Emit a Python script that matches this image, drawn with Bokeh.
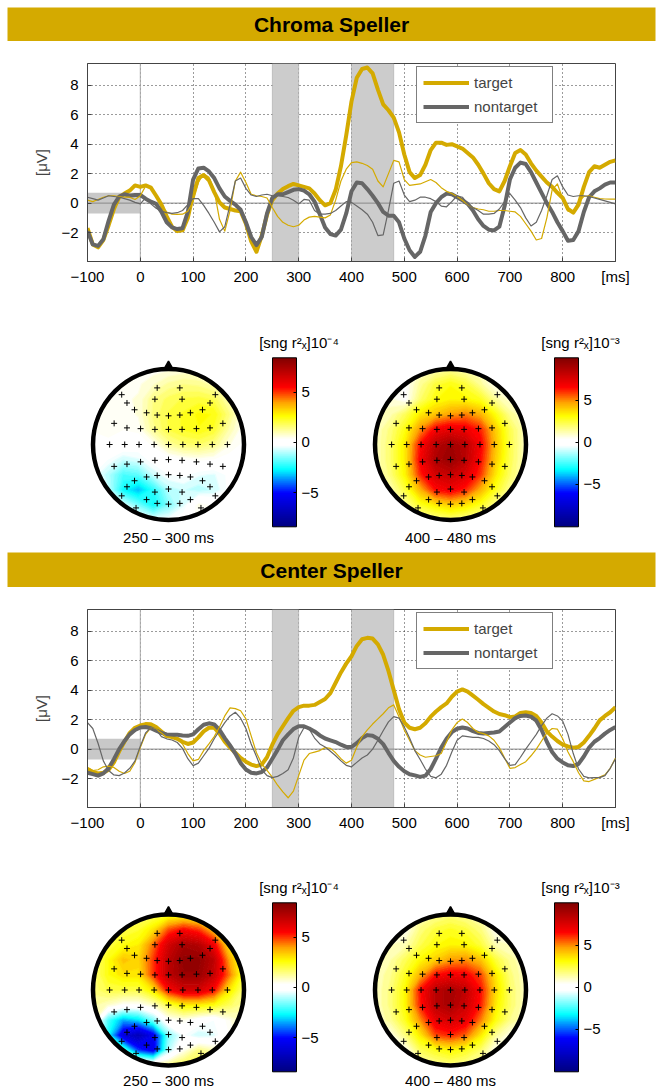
import numpy as np
from bokeh.plotting import figure
from bokeh.layouts import column, row
from bokeh.models import (Range1d, BoxAnnotation, Span, Legend, LegendItem, Label,
                          ColorBar, LinearColorMapper, FixedTicker)
from bokeh.embed import file_html
from bokeh.resources import INLINE

FONT = "Liberation Sans"
GOLD = "#D4AA00"
GRAY = "#666666"
SHADE = "#CCCCCC"
PAGE_W = 662

# ---------------- ERP data (uV), sampled every 10 ms ----------------
time_ms = list(range(-100, 901, 10))

chroma_cpz_target = [
    -1.7, -2.8, -3.0, -2.5, -1.5, -0.4, 0.4, 0.65, 0.85, 1.2,
    1.1, 1.2, 1.05, 0.5, -0.1, -0.9, -1.6, -1.9, -1.85, -1.0,
    0.6, 1.7, 1.9, 1.55, 0.75, 0.05, -0.3, -0.4, -0.5, -0.55,
    -1.4, -2.6, -3.3, -2.2, -0.8, 0.2, 0.65, 0.95, 1.15, 1.3,
    1.2, 1.1, 1.0, 0.65, 0.2, -0.15, 0.0, 0.9, 2.5, 4.6,
    6.9, 8.5, 9.1, 9.2, 8.8, 7.7, 6.7, 6.3, 5.8, 4.8,
    3.3, 2.1, 1.7, 1.9, 2.6, 3.6, 4.1, 4.1, 3.95, 4.0,
    3.85, 3.7, 3.4, 3.1, 2.6, 2.0, 1.35, 0.95, 0.8, 1.5,
    2.5, 3.4, 3.6, 3.3, 2.7, 2.2, 1.8, 1.4, 1.1, 0.7,
    0.35, -0.4, -0.65, -0.1, 1.1, 2.1, 2.5, 2.4, 2.6, 2.8,
    2.9]
chroma_cpz_nontarget = [
    -1.9, -2.8, -2.9, -2.45, -1.2, -0.1, 0.45, 0.6, 0.5, 0.55,
    0.55, 0.3, 0.1, -0.05, -0.6, -1.3, -1.65, -1.76, -1.7, -0.6,
    1.6, 2.35, 2.4, 2.15, 1.7, 1.0, 0.45, 0.15, -0.1, -0.45,
    -1.3, -2.3, -2.85, -2.3, -0.7, 0.35, 0.6, 0.6, 0.75, 0.9,
    0.95, 0.85, 0.6, 0.1, -0.75, -1.65, -2.1, -2.2, -1.8, -0.7,
    0.8, 1.4, 1.35, 0.95, 0.5, 0.0, -0.6, -0.85, -0.86, -1.3,
    -2.4, -3.2, -3.65, -3.3, -2.2, -0.6, 0.0, 0.4, 0.65, 0.6,
    0.4, 0.2, -0.05, -0.5, -1.1, -1.55, -1.8, -1.85, -1.6, -0.2,
    1.6, 2.4, 2.75, 2.65, 2.1, 1.4, 0.7, 0.0, -0.6, -1.3,
    -1.9, -2.55, -2.5, -1.9, -0.6, 0.4, 0.8, 1.0, 1.25, 1.4,
    1.4]
chroma_po7_target = [
    0.2, 0.1, 0.25, 0.4, 0.5, 0.5, 0.45, 0.4, 0.4, 0.25,
    0.5, 1.15, 1.1, 0.5, -0.2, -0.6, -0.75, -0.77, -0.75, -0.55,
    0.1, 1.4, 2.0, 1.75, 0.85, -1.1, -1.9, -0.5, 1.5, 2.1,
    1.4, 0.6, 0.5, 0.45, 0.35, -0.3, -0.9, -1.3, -1.5, -1.6,
    -1.5, -1.15, -0.95, -0.9, -0.95, -1.0, -0.8, 0.2, 1.5, 2.3,
    2.75, 2.8, 2.7, 2.55, 2.3, 1.5, 1.1, 2.0, 2.9, 2.8,
    1.6, 1.2, 1.25, 1.3, 1.45, 1.6, 1.4, 1.05, 0.8, 0.65,
    0.45, 0.2, -0.1, -0.3, -0.4, -0.45, -0.55, -0.55, -0.5, -0.5,
    -0.55, -0.6, -0.9, -1.4, -1.9, -2.5, -2.4, -1.0, 0.9, 1.3,
    0.3, -0.55, -0.6, 0.1, 0.45, 0.5, 0.4, 0.3, 0.28, 0.27,
    0.27]
chroma_po7_nontarget = [
    0.4, 0.3, 0.2, 0.35, 0.5, 0.45, 0.4, 0.3, 0.2, 0.05,
    -0.05, 0.35, -0.05, -0.35, -0.55, -0.65, -0.7, -0.65, -0.5, -0.1,
    0.3, 0.3, -0.15, -0.7, -1.3, -1.95, -1.6, -0.1, 1.5, 1.7,
    1.0, 0.55, 0.45, 0.55, 0.6, 0.5, 0.5, 0.45, 0.38, 0.2,
    -0.05, 0.25, 0.2, -0.5, -0.75, -0.75, -0.7, -0.5, -0.2, 0.1,
    0.05, -0.2, -0.45, -0.75, -1.3, -2.2, -2.15, -0.5, 1.35, 1.5,
    0.55, 0.1, 0.2, 0.4, 0.4, 0.3, 0.1, -0.2, -0.25, 0.1,
    0.5, 0.4, -0.05, -0.3, -0.5, -0.75, -0.75, -0.7, -0.4, 0.1,
    0.65, 0.2, -0.3, -1.0, -1.55, -1.3, -0.5, 0.5, 1.6, 1.85,
    1.1, 0.55, 0.45, 0.5, 0.5, 0.45, 0.35, 0.25, 0.15, 0.05,
    -0.05]

center_cpz_target = [
    -1.35, -1.55, -1.65, -1.6, -1.4, -0.9, -0.15, 0.5, 1.1, 1.45,
    1.6, 1.7, 1.68, 1.5, 1.2, 0.9, 0.82, 0.7, 0.5, 0.35,
    0.45, 0.8, 1.2, 1.45, 1.45, 1.05, 0.5, 0.1, -0.25, -0.6,
    -0.85, -1.05, -1.15, -1.05, -0.55, 0.3, 1.0, 1.55, 2.1, 2.6,
    2.85, 2.95, 2.95, 3.0, 3.2, 3.4, 3.8, 4.5, 5.2, 5.8,
    6.3, 7.0, 7.45, 7.55, 7.5, 7.1, 6.4, 5.3, 4.0, 2.7,
    1.8, 1.45, 1.35, 1.45, 1.75, 2.2, 2.55, 2.85, 3.1, 3.55,
    3.9, 4.05, 3.9, 3.63, 3.35, 3.05, 2.8, 2.55, 2.38, 2.3,
    2.17, 2.22, 2.45, 2.5, 2.45, 2.25, 1.8, 1.2, 0.85, 0.55,
    0.3, 0.18, 0.1, 0.15, 0.45, 0.9, 1.4, 1.95, 2.25, 2.5,
    2.85]
center_cpz_nontarget = [
    -1.6, -1.7, -1.8, -1.65, -1.3, -0.68, 0.0, 0.55, 1.0, 1.3,
    1.47, 1.5, 1.42, 1.25, 1.1, 1.0, 0.98, 0.97, 0.93, 0.9,
    1.0, 1.35, 1.65, 1.75, 1.68, 1.3, 0.75, 0.25, -0.3, -0.95,
    -1.38, -1.6, -1.65, -1.55, -1.25, -0.65, -0.05, 0.6, 1.0, 1.36,
    1.55, 1.55, 1.4, 1.2, 0.93, 0.72, 0.6, 0.48, 0.3, 0.15,
    0.15, 0.4, 0.75, 0.95, 0.9, 0.7, 0.34, -0.25, -0.8, -1.2,
    -1.5, -1.7, -1.78, -1.88, -1.8, -1.35, -0.65, 0.1, 0.7, 1.15,
    1.38, 1.47, 1.4, 1.22, 1.1, 1.06, 1.1, 1.13, 1.2, 1.5,
    1.8, 2.1, 2.25, 2.28, 2.2, 1.93, 1.3, 0.5, -0.2, -0.65,
    -0.9, -1.1, -1.15, -1.0, -0.5, 0.1, 0.5, 0.75, 1.05, 1.3,
    1.5]
center_po7_target = [
    -1.25, -1.45, -1.4, -1.2, -1.15, -1.25, -1.5, -1.65, -1.5, -0.9,
    0.1, 1.0, 1.45, 1.35, 1.1, 0.8, 0.8, 0.7, 0.35, -0.3,
    -0.8, -0.7, -0.1, 0.35, 0.85, 1.5, 2.25, 2.8, 2.75, 2.6,
    2.05, 0.9, -0.25, -1.0, -1.45, -1.9, -2.45, -2.9, -3.3, -2.85,
    -1.8, -0.75, -0.3, -0.2, -0.1, 0.1, 0.05, -0.25, -0.65, -0.95,
    -0.75, 0.15, 0.85, 1.3, 1.7, 2.05, 2.4, 2.8, 3.0, 2.2,
    1.3, 0.6, -0.1, -0.4, -0.55, -0.5, -0.45, -0.3, 0.5, 1.3,
    1.8, 2.04, 1.8, 1.4, 1.13, 1.05, 0.9, 0.6, 0.1, -0.6,
    -1.3, -1.25, -1.05, -0.85, -0.45, 0.0, 0.55, 1.1, 1.4, 1.35,
    0.7, -0.2, -0.85, -1.6, -2.15, -2.2, -2.05, -1.9, -1.75, -1.3,
    -0.6]
center_po7_nontarget = [
    1.8, 1.4, 0.4, -0.8, -1.45, -1.75, -1.8, -1.62, -1.3, -0.8,
    0.2, 1.1, 1.45, 1.3, 0.85, 0.7, 0.62, 0.45, 0.05, -0.65,
    -1.12, -0.95, -0.45, 0.05, 0.7, 1.25, 1.8, 2.25, 2.5, 2.1,
    1.4, 0.35, -0.5, -1.4, -1.8, -1.93, -1.85, -1.65, -1.4, -0.6,
    0.8, 1.45, 1.35, 0.75, 0.35, 0.15, -0.15, -0.45, -0.8, -1.1,
    -1.2, -0.9, -0.6, -0.4, 0.0, 0.6, 1.25, 1.85, 2.2, 2.1,
    1.5, 0.75, -0.1, -0.7, -1.35, -1.85, -1.95, -1.7, -1.1, -0.2,
    0.6, 0.9, 0.85, 0.8, 0.8, 0.72, 0.55, 0.3, -0.1, -0.65,
    -1.1, -1.05, -0.55, 0.0, 0.5, 1.0, 1.6, 2.1, 2.4, 2.25,
    1.9, 1.0, -0.3, -1.35, -1.85, -1.95, -1.93, -1.93, -1.8, -1.3,
    -0.65]

x_ticks = [-100, 0, 100, 200, 300, 400, 500, 600, 700, 800, 900]
x_tick_text = {-100: "\u2212100", 900: "[ms]"}
y_ticks = [-2, 0, 2, 4, 6, 8]
y_tick_text = {-2: "\u22122"}
intervals = [(250, 300), (400, 480)]
baseline_window = (-100, 0)
baseline_band = (-0.7, 0.7)

# ---------------- scalp maps: values on an 11x11 grid, rows from front (y=1) to back (y=-1) ----------------
grid_coords = [-1.0, -0.8, -0.6, -0.4, -0.2, 0.0, 0.2, 0.4, 0.6, 0.8, 1.0]

map_chroma_250 = [  # x 10^-4
    [0.3, 0.3, 0.3, 0.3, 0.4, 0.5, 0.6, 0.6, 0.4, 0.3, 0.3],
    [0.3, 0.4, 0.5, 0.5, 0.8, 1.2, 1.4, 1.3, 1.0, 0.5, 0.3],
    [0.3, 0.4, 0.5, 0.6, 1.4, 1.8, 2.0, 2.1, 1.9, 1.0, 0.3],
    [0.3, 0.4, 0.4, 0.6, 1.5, 2.0, 2.3, 2.6, 2.5, 1.5, 0.4],
    [0.3, 0.4, 0.3, 0.4, 1.3, 2.0, 2.3, 2.5, 2.2, 1.1, 0.3],
    [0.2, 0.2, 0.1, 0.0, 0.4, 1.2, 1.6, 1.7, 1.4, 0.6, 0.2],
    [0.0, -0.3, -0.8, -0.6, -0.1, 0.1, 0.3, 0.4, 0.3, 0.1, 0.0],
    [-0.3, -1.0, -2.0, -1.8, -0.8, -0.3, -0.2, -0.5, -0.6, -0.2, 0.0],
    [-0.3, -0.8, -2.6, -3.3, -2.3, -1.0, -0.8, -1.0, -0.8, -0.2, 0.0],
    [-0.2, -0.3, -0.6, -1.6, -2.6, -1.5, -0.6, 0.6, 0.2, 0.0, 0.0],
    [0.0, 0.0, 0.0, 0.0, -0.4, -0.3, 0.0, 0.4, 0.1, 0.0, 0.0]]
map_chroma_400 = [  # x 10^-3
    [1.0, 1.0, 1.0, 1.0, 1.2, 1.5, 1.2, 1.0, 1.0, 1.0, 1.0],
    [1.0, 0.5, 0.3, 1.5, 2.5, 3.0, 2.5, 1.5, 0.5, 0.8, 1.0],
    [1.0, 0.8, 0.3, 2.0, 3.0, 3.3, 3.2, 2.8, 1.5, 0.8, 1.0],
    [1.0, 1.2, 2.2, 3.5, 4.2, 4.8, 5.2, 4.5, 3.0, 1.5, 1.0],
    [1.0, 1.8, 3.0, 5.0, 6.8, 7.3, 7.0, 6.2, 4.0, 2.2, 1.0],
    [1.0, 2.0, 3.5, 6.5, 8.5, 9.2, 8.5, 6.8, 4.2, 2.3, 1.0],
    [1.0, 2.0, 3.5, 6.8, 8.8, 9.5, 8.5, 6.5, 4.0, 2.2, 1.0],
    [1.0, 1.8, 3.3, 6.2, 7.8, 8.2, 7.5, 6.0, 3.5, 2.0, 1.0],
    [1.0, 1.2, 2.5, 4.5, 6.5, 7.0, 6.2, 4.5, 2.8, 1.5, 1.0],
    [1.0, 0.8, 1.5, 2.8, 3.5, 4.0, 3.6, 2.8, 1.6, 0.8, 1.0],
    [1.0, 1.0, 1.0, 1.2, 1.5, 1.8, 1.5, 1.2, 1.0, 1.0, 1.0]]
map_center_250 = [  # x 10^-4
    [1.5, 1.5, 1.5, 1.5, 1.8, 2.2, 2.5, 2.4, 2.0, 1.5, 1.5],
    [1.5, 1.8, 2.0, 2.2, 3.0, 4.8, 5.5, 5.0, 3.5, 2.0, 1.5],
    [1.5, 2.0, 2.5, 2.8, 4.5, 6.5, 7.5, 7.2, 5.8, 3.0, 1.5],
    [1.5, 2.5, 3.5, 3.2, 5.0, 7.0, 8.0, 8.0, 7.0, 4.0, 2.0],
    [1.5, 2.5, 3.0, 3.0, 5.0, 7.0, 7.8, 7.8, 6.8, 4.5, 2.0],
    [1.5, 2.0, 2.0, 2.0, 3.0, 5.5, 6.5, 6.5, 5.5, 3.0, 1.5],
    [1.2, 0.8, 0.3, 0.3, 0.8, 2.0, 2.8, 2.8, 2.5, 1.8, 1.2],
    [1.0, -2.0, -3.5, -3.0, -1.5, 0.3, 0.5, 0.0, -0.3, 0.5, 1.0],
    [1.0, -2.5, -6.0, -7.0, -5.5, -1.5, -0.3, -0.8, -0.6, 0.3, 1.0],
    [1.0, 0.5, -1.5, -4.5, -5.5, -1.0, 0.5, 1.5, 1.0, 1.0, 1.0],
    [1.5, 1.5, 1.5, 1.5, 1.0, 1.5, 2.0, 2.0, 1.5, 1.5, 1.5]]
map_center_400 = [  # x 10^-3
    [1.0, 1.0, 1.0, 1.2, 1.5, 1.8, 1.5, 1.2, 1.0, 1.0, 1.0],
    [1.0, 0.8, 0.5, 1.8, 2.5, 2.8, 2.5, 1.8, 0.5, 0.8, 1.0],
    [1.0, 1.0, 1.2, 2.3, 3.0, 3.3, 3.2, 2.5, 1.2, 1.0, 1.0],
    [1.0, 1.3, 2.2, 3.2, 4.0, 4.8, 5.0, 4.2, 2.5, 1.5, 1.0],
    [1.0, 1.6, 2.8, 4.5, 6.5, 7.0, 6.8, 5.8, 3.5, 1.8, 1.0],
    [1.0, 1.8, 3.2, 6.5, 8.5, 9.0, 8.3, 6.5, 3.8, 2.0, 1.0],
    [1.0, 1.8, 3.2, 6.3, 8.5, 9.0, 8.0, 6.3, 3.5, 2.0, 1.0],
    [1.0, 1.5, 2.8, 5.0, 7.2, 7.8, 7.2, 5.2, 3.0, 1.6, 1.0],
    [1.0, 0.6, 1.8, 3.5, 5.8, 6.2, 5.5, 3.5, 1.5, 0.6, 1.0],
    [1.0, 1.0, 0.5, 2.2, 2.8, 3.2, 2.8, 2.0, 0.5, 1.0, 1.0],
    [1.0, 1.0, 1.0, 1.2, 1.5, 1.8, 1.5, 1.2, 1.0, 1.0, 1.0]]

elec_x = [-0.15, 0.15, -0.62, 0.62, -0.55, -0.18, 0.18, 0.55,
          -0.45, -0.29, -0.15, 0.0, 0.15, 0.29, 0.45, -0.72, 0.72,
          -0.55, -0.37, -0.18, 0.0, 0.18, 0.37, 0.55,
          -0.78, -0.58, -0.39, -0.19, 0.0, 0.19, 0.39, 0.58, 0.78,
          -0.72, 0.72, -0.55, -0.37, -0.18, 0.0, 0.18, 0.37, 0.55,
          -0.45, -0.29, -0.15, 0.0, 0.15, 0.29, 0.45, -0.55, 0.55,
          -0.18, 0.0, 0.18, -0.62, 0.62, -0.29, -0.15, 0.0, 0.15, 0.29, -0.43, 0.43]
elec_y = [0.75, 0.75, 0.66, 0.66, 0.55, 0.60, 0.60, 0.55,
          0.46, 0.42, 0.39, 0.38, 0.39, 0.42, 0.46, 0.28, 0.28,
          0.22, 0.21, 0.20, 0.20, 0.20, 0.21, 0.22,
          0.0, 0.0, 0.0, 0.0, 0.0, 0.0, 0.0, 0.0, 0.0,
          -0.29, -0.29, -0.26, -0.23, -0.21, -0.20, -0.21, -0.23, -0.26,
          -0.48, -0.43, -0.41, -0.40, -0.41, -0.43, -0.48, -0.56, -0.56,
          -0.63, -0.59, -0.63, -0.68, -0.68, -0.73, -0.78, -0.79, -0.78, -0.73, -0.84, -0.84]

cb_title_e4 = "[sng r\u00b2\u2093]10\u207b\u2074"
cb_title_e3 = "[sng r\u00b2\u2093]10\u207b\u00b3"

# ---------------- colour map (white-centred jet-like) ----------------
CMAP_STOPS = [(-1.0, (0, 0, 128)), (-0.6, (0, 0, 255)), (-0.32, (0, 255, 255)),
              (-0.04, (255, 255, 255)), (0.04, (255, 255, 255)), (0.31, (255, 255, 0)),
              (0.47, (255, 165, 0)), (0.65, (255, 0, 0)), (1.0, (128, 0, 0))]


def cmap(f):
    f = max(-1.0, min(1.0, f))
    for (f0, c0), (f1, c1) in zip(CMAP_STOPS[:-1], CMAP_STOPS[1:]):
        if f <= f1:
            t = (f - f0) / (f1 - f0)
            return "#%02x%02x%02x" % tuple(int(round(a + (b - a) * t)) for a, b in zip(c0, c1))
    return "#800000"


PALETTE = [cmap(-1 + 2 * (i + 0.5) / 256) for i in range(256)]


def title_bar(text, h, top):
    p = figure(width=PAGE_W, height=h, x_range=Range1d(0, 1), y_range=Range1d(0, 1),
               output_backend="svg", toolbar_location=None, title=None,
               min_border_left=7, min_border_right=7, min_border_top=top, min_border_bottom=0,
               x_axis_location=None, y_axis_location=None,
               background_fill_color=GOLD, border_fill_color="white", outline_line_color=None)
    p.grid.visible = False
    p.add_layout(Label(x=0.5, y=0.5, text=text, text_align="center", text_baseline="middle",
                       text_font=FONT, text_font_size="21px", text_font_style="bold",
                       text_color="black"))
    return p


def erp_figure(tt, nt, tn, nn, top, bottom, height):
    p = figure(width=PAGE_W, height=height, x_range=Range1d(-100, 900), y_range=Range1d(-3.96, 9.47),
               output_backend="svg", toolbar_location=None, title=None,
               min_border_left=87, min_border_right=47, min_border_top=top, min_border_bottom=bottom,
               outline_line_color="#444444")
    xa, ya = p.xaxis[0], p.yaxis[0]
    for ax in (xa, ya):
        ax.major_tick_in = 4
        ax.major_tick_out = 0
        ax.minor_tick_line_color = None
        ax.major_tick_line_color = "#444444"
        ax.axis_line_color = "#444444"
        ax.major_label_text_font = FONT
        ax.major_label_text_font_size = "15px"
        ax.major_label_text_color = "black"
    xa.ticker = FixedTicker(ticks=x_ticks)
    xa.major_label_overrides = x_tick_text
    xa.major_label_standoff = 6
    ya.ticker = FixedTicker(ticks=y_ticks)
    ya.major_label_overrides = y_tick_text
    ya.major_label_standoff = 9
    ya.axis_label = "[\u03bcV]"
    ya.axis_label_text_font = FONT
    ya.axis_label_text_font_size = "15px"
    ya.axis_label_text_font_style = "normal"
    ya.axis_label_standoff = 8
    p.xgrid[0].ticker = FixedTicker(ticks=x_ticks)
    p.ygrid[0].ticker = FixedTicker(ticks=y_ticks)
    for g in (p.xgrid[0], p.ygrid[0]):
        g.grid_line_color = "#222222"
        g.grid_line_dash = "1 3"
        g.grid_line_alpha = 0.9

    p.add_layout(BoxAnnotation(left=baseline_window[0], right=baseline_window[1],
                               bottom=baseline_band[0], top=baseline_band[1],
                               fill_color="#C8C8C8", fill_alpha=1, line_color=None, level="underlay"))
    for a, b in intervals:
        p.add_layout(BoxAnnotation(left=a, right=b, fill_color=SHADE, fill_alpha=1,
                                   line_color="#777777", line_width=1, level="underlay"))
    p.add_layout(Span(location=0, dimension="width", line_color="#888888", line_width=1, level="underlay"))
    p.add_layout(Span(location=0, dimension="height", line_color="#AAAAAA", line_width=1, level="underlay"))

    r_tt = p.line(time_ms, tt, line_color=GOLD, line_width=4, line_join="round")
    r_nt = p.line(time_ms, nt, line_color=GRAY, line_width=4, line_join="round")
    p.line(time_ms, tn, line_color=GOLD, line_width=1.2, line_join="round")
    p.line(time_ms, nn, line_color=GRAY, line_width=1.2, line_join="round")

    legend = Legend(items=[LegendItem(label="target", renderers=[r_tt]),
                           LegendItem(label="nontarget", renderers=[r_nt])],
                    location=(329, 138), margin=0, padding=6, spacing=5,
                    glyph_width=46, glyph_height=19, label_height=19, label_width=72,
                    label_standoff=5, label_text_font=FONT, label_text_font_size="15px",
                    border_line_color="black", border_line_width=1,
                    background_fill_color="white", background_fill_alpha=1)
    p.add_layout(legend)
    for x, txt in ((152, "CPz  (thick)"), (650, "PO7  (thin)")):
        p.add_layout(Label(x=x, y=10.05, text=txt, text_align="center", text_baseline="middle",
                           text_font=FONT, text_font_size="15px", text_color="black"))
    return p


S = 75.5  # px per head radius
NOSE_X = [-0.065, 0.0, 0.065]
NOSE_Y = [0.99, 1.105, 0.99]


def scalp_figure(vals, vmax, cb_title, time_label, W, cx, H, cy, bar_left, bar_top, bar_h,
                 cbt_x, cbt_y, time_y):
    p = figure(width=W, height=H, x_range=Range1d(-cx / S, (W - cx) / S),
               y_range=Range1d(-(H - cy) / S, cy / S),
               output_backend="svg", toolbar_location=None, title=None, min_border=0,
               x_axis_location=None, y_axis_location=None, outline_line_color=None)
    p.grid.visible = False
    z = np.array(vals[::-1], dtype=float)
    levels = np.linspace(-vmax, vmax, 61)
    mids = (levels[:-1] + levels[1:]) / 2
    fills = [cmap(m / vmax) for m in mids]
    lines = [cmap(lv / vmax) for lv in levels]
    p.contour(x=grid_coords, y=grid_coords, z=z, levels=levels, fill_color=fills,
              line_color=lines, line_width=1.3)
    p.annulus(x=[0], y=[0], inner_radius=1.0, outer_radius=1.6, fill_color="white", line_color=None)
    p.patch(NOSE_X, NOSE_Y, fill_color="black", line_color="black", line_width=1.5)
    p.circle(x=[0], y=[0], radius=1.0, fill_color=None, line_color="black", line_width=4.5)
    p.scatter(elec_x, elec_y, marker="cross", size=6, line_color="black", line_width=1)

    mapper = LinearColorMapper(palette=PALETTE, low=-vmax, high=vmax)
    cb = ColorBar(color_mapper=mapper, location=(bar_left, H - bar_top - bar_h),
                  width=24, height=bar_h, padding=0, margin=0,
                  ticker=FixedTicker(ticks=[-5, 0, 5]), major_label_overrides={-5: "\u22125"},
                  major_label_text_font=FONT, major_label_text_font_size="15px",
                  major_label_text_color="black", label_standoff=5,
                  major_tick_line_color="black", major_tick_in=3, major_tick_out=0,
                  minor_tick_line_color=None, bar_line_color="black",
                  background_fill_alpha=0, border_line_color=None)
    p.add_layout(cb)
    p.add_layout(Label(x=(cbt_x - cx) / S, y=(cy - cbt_y) / S, text=cb_title,
                       text_align="center", text_baseline="middle", text_font=FONT,
                       text_font_size="15px", text_color="black"))
    p.add_layout(Label(x=0, y=(cy - time_y) / S, text=time_label, text_align="center",
                       text_baseline="middle", text_font=FONT, text_font_size="15px",
                       text_color="black"))
    return p


WL, WR = 345, PAGE_W - 345

t1 = title_bar("Chroma Speller", 41, 7)
e1 = erp_figure(chroma_cpz_target, chroma_cpz_nontarget, chroma_po7_target, chroma_po7_nontarget,
                22, 39, 259)
s1a = scalp_figure(map_chroma_250, 8.4, cb_title_e4, "250 \u2013 300 ms", WL, 168, 252, 144,
                   272, 57.3, 169, 298.5, 41.7, 236.7)
s1b = scalp_figure(map_chroma_400, 10.1, cb_title_e3, "400 \u2013 480 ms", WR, 450 - WL, 252, 144,
                   554 - WL, 57.3, 169, 580 - WL, 41.7, 236.7)
t2 = title_bar("Center Speller", 35, 0)
e2 = erp_figure(center_cpz_target, center_cpz_nontarget, center_po7_target, center_po7_nontarget,
                22, 39, 259)
s2a = scalp_figure(map_center_250, 8.4, cb_title_e4, "250 \u2013 300 ms", WL, 168, 243, 143.5,
                   272, 56.3, 169, 298.5, 40.7, 234)
s2b = scalp_figure(map_center_400, 10.1, cb_title_e3, "400 \u2013 480 ms", WR, 450 - WL, 243, 143.5,
                   554 - WL, 56.3, 169, 580 - WL, 40.7, 234)

# title bars are wrapped in their own rows so their frames are not aligned with the ERP frames
layout = column(row(t1), e1, row(s1a, s1b), row(t2), e2, row(s2a, s2b))
open("out.html", "w").write(file_html(layout, INLINE))
